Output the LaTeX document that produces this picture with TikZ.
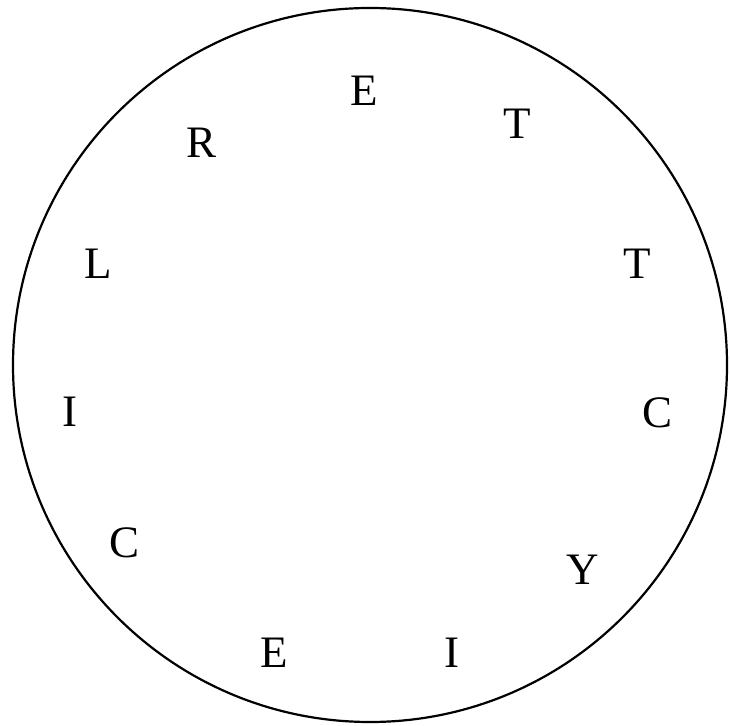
\documentclass[tikz,border=0pt]{standalone}
\usepackage{fontspec}
\setmainfont{Liberation Serif}
\usepackage{tikz}
\tikzset{every node/.style={font=\fontsize{45}{54}\selectfont, inner sep=0pt}}
\colorlet{ringcol}{black}
\colorlet{lettercol}{black}

\begin{document}
\begin{tikzpicture}[x=1pt, y=1pt]

  % Page frame.
  \useasboundingbox (0,0) rectangle (730,725);

  % Outer ring.
  \draw[line width=2.2pt, ringcol] (370,360) circle (357);

  % Letters round the ring, clockwise from the top.
  \foreach \x/\y/\ch [count=\i] in {364/634/E, 517/601/T, 637/461/T,
      657/312/C, 583/155/Y, 452/72/I, 274/72/E, 125/182/C,
      70/313/I, 98/461/L, 202/582/R} {
    \node[text=lettercol] (letter\i) at (\x,\y) {\ch};
  }

\end{tikzpicture}
\end{document}
